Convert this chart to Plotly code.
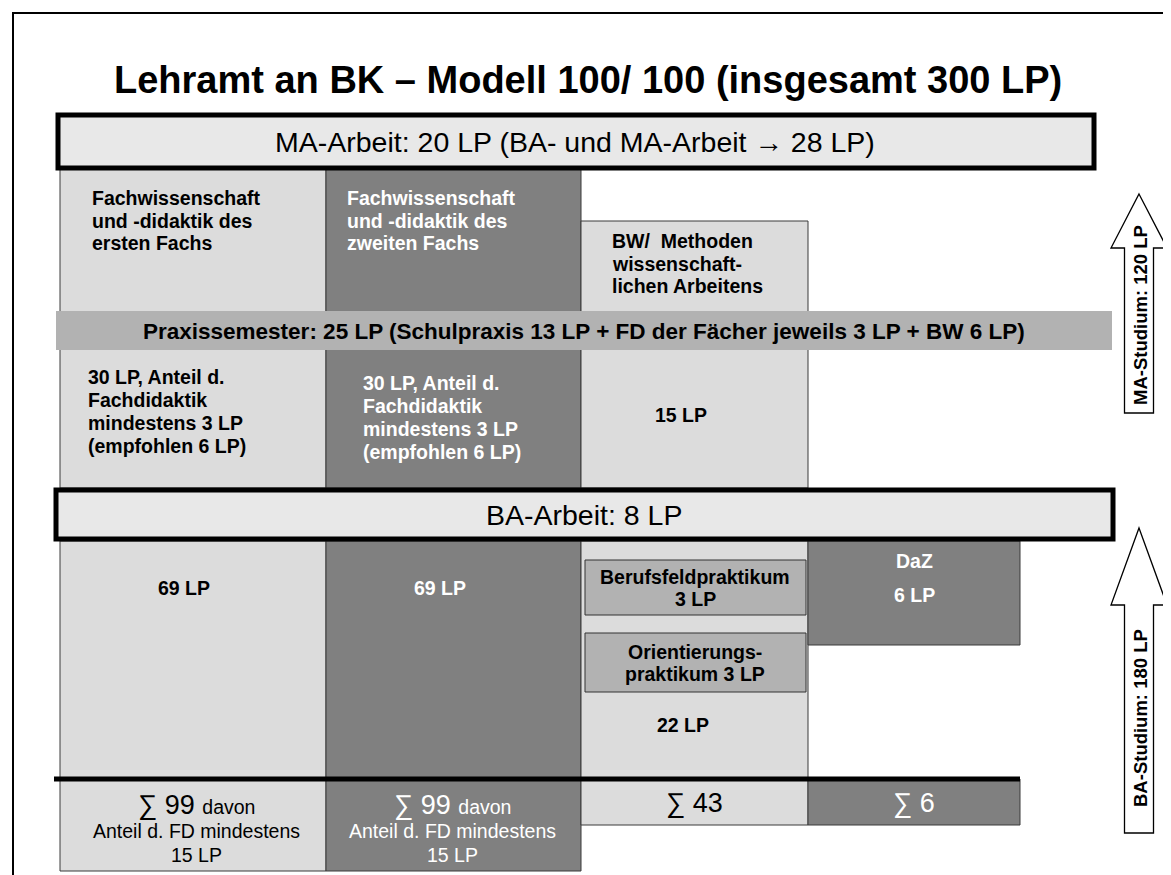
import plotly.graph_objects as go

# ---------------- data ----------------
title_text = "Lehramt an BK – Modell 100/ 100 (insgesamt 300 LP)"
ma_thesis_lp = 20
ba_thesis_lp = 8
theses_total_lp = 28
praxis_total_lp = 25
praxis_school_lp = 13
praxis_fd_lp = 3
praxis_bw_lp = 6
ma_area_labels = [
    ["Fachwissenschaft", "und -didaktik des", "ersten Fachs"],
    ["Fachwissenschaft", "und -didaktik des", "zweiten Fachs"],
    ["BW/  Methoden", "wissenschaft-", "lichen Arbeitens"],
]
ma_area_lp = [30, 30, 15]
ma_fd_min_lp = 3
ma_fd_recommended_lp = 6
ba_area_lp = [69, 69, 22, 6]
ba_extra_label = "DaZ"
practica_labels = [["Berufsfeldpraktikum", "{} LP"], ["Orientierungs-", "praktikum {} LP"]]
practica_lp = [3, 3]
area_totals = [99, 99, 43, 6]
ba_fd_min_lp = 15
study_labels = ["MA-Studium", "BA-Studium"]
study_lp = [120, 180]

# ---------------- layout geometry (pixels) ----------------
W, H = 1171, 875
LIGHT = "#dcdcdc"
DARK = "#808080"
BAND = "#b2b2b2"
BOX = "#e8e8e8"
EDGE = "#3a3a3a"
FONT = "Liberation Sans, Arial, sans-serif"

col_x = [52, 318, 573, 800, 1012]
ma_top, bw_top, mid_y, ba_bot, sum_y = 160, 213, 480, 533, 771
sum_bottom = [863, 863, 817, 817]
daz_bottom = 637

shapes = []
ann = []


def rect(x0, y0, x1, y1, fill, lc=EDGE, lw=1):
    shapes.append(dict(type="rect", xref="x", yref="y", x0=x0, y0=y0, x1=x1, y1=y1,
                       fillcolor=fill, line=dict(color=lc, width=lw), layer="above"))


def text(x, y, s, size, color="black", bold=False, anchor="center", angle=0):
    if bold:
        s = "<b>" + s + "</b>"
    ann.append(dict(x=x, y=y, xref="x", yref="y", text=s, showarrow=False,
                    xanchor=anchor, yanchor="middle", textangle=angle,
                    font=dict(family=FONT, size=size, color=color)))


fills = [LIGHT, DARK, LIGHT, DARK]
tcol = ["black", "white", "black", "white"]

# MA columns
rect(col_x[0], ma_top, col_x[1], mid_y, LIGHT)
rect(col_x[1], ma_top, col_x[2], mid_y, DARK)
rect(col_x[2], bw_top, col_x[3], mid_y, LIGHT)

# Praxissemester band
rect(48, 303, 1104, 342, BAND, lc=BAND, lw=0)
text(576, 323, "Praxissemester: {} LP (Schulpraxis {} LP + FD der Fächer jeweils {} LP + BW {} LP)".format(
    praxis_total_lp, praxis_school_lp, praxis_fd_lp, praxis_bw_lp), 22.5, bold=True)

# MA upper labels
ma_label_x = [82, 337, 602]
ma_label_y0 = [190, 190, 233]
for i, lines in enumerate(ma_area_labels):
    for j, ln in enumerate(lines):
        text(ma_label_x[i], ma_label_y0[i] + j * 22.5, ln, 19.5, tcol[i], True, "left")

# MA lower labels
lower_lines = ["{} LP, Anteil d.", "Fachdidaktik", "mindestens {} LP", "(empfohlen {} LP)"]
low_x = [78, 353]
low_y0 = [369, 375]
for i in range(2):
    vals = [ma_area_lp[i], None, ma_fd_min_lp, ma_fd_recommended_lp]
    for j, ln in enumerate(lower_lines):
        s = ln.format(vals[j]) if "{}" in ln else ln
        text(low_x[i], low_y0[i] + j * 23, s, 19.5, tcol[i], True, "left")
text(673, 407, "{} LP".format(ma_area_lp[2]), 19.5, "black", True)

# BA columns
rect(col_x[0], ba_bot, col_x[1], sum_y, LIGHT)
rect(col_x[1], ba_bot, col_x[2], sum_y, DARK)
rect(col_x[2], ba_bot, col_x[3], sum_y, LIGHT)
rect(col_x[3], ba_bot, col_x[4], daz_bottom, DARK)

# practica boxes
prac_y = [(552, 607), (625, 684)]
for k, (y0, y1) in enumerate(prac_y):
    rect(577, y0, 798, y1, BAND, lc="#333333", lw=1)
    cy = (y0 + y1) / 2
    for j, ln in enumerate(practica_labels[k]):
        s = ln.format(practica_lp[k]) if "{}" in ln else ln
        text(687, cy - 11 + j * 22, s, 19.5, "black", True)

text(176, 580, "{} LP".format(ba_area_lp[0]), 19.5, "black", True)
text(432, 580, "{} LP".format(ba_area_lp[1]), 19.5, "white", True)
text(675, 717, "{} LP".format(ba_area_lp[2]), 19.5, "black", True)
text(906, 553, ba_extra_label, 19.5, "white", True)
text(906, 587, "{} LP".format(ba_area_lp[3]), 19.5, "white", True)

# sums row
for i in range(4):
    rect(col_x[i], sum_y, col_x[i + 1], sum_bottom[i], fills[i])
shapes.append(dict(type="line", xref="x", yref="y", x0=46, x1=col_x[4], y0=sum_y, y1=sum_y,
                   line=dict(color="black", width=5), layer="above"))
sum_cx = [188, 444, 686, 906]
for i in range(4):
    if i < 2:
        text(sum_cx[i], 797, "∑ {} <span style='font-size:19.5px'>davon</span>".format(area_totals[i]),
             27, tcol[i])
        text(sum_cx[i], 823, "Anteil d. FD mindestens", 19.5, tcol[i])
        text(sum_cx[i], 847, "{} LP".format(ba_fd_min_lp), 19.5, tcol[i])
    else:
        text(sum_cx[i], 795, "∑ {}".format(area_totals[i]), 27, tcol[i])

# thesis boxes
rect(50, 107, 1086, 160, BOX, lc="black", lw=5)
text(567, 134, "MA-Arbeit: {} LP (BA- und MA-Arbeit → {} LP)".format(ma_thesis_lp, theses_total_lp), 28.5)
rect(48, 482, 1105, 531, BOX, lc="black", lw=5)
text(576, 507, "BA-Arbeit: {} LP".format(ba_thesis_lp), 28.5)

# arrows
arrows = [(186, 240, 405, 307), (520, 597, 825, 710)]
cx, hw, sw = 1131, 28, 14.5
for k, (tip, base, bottom, ty) in enumerate(arrows):
    path = "M {} {} L {} {} L {} {} L {} {} L {} {} L {} {} L {} {} Z".format(
        cx, tip, cx + hw, base, cx + sw, base, cx + sw, bottom, cx - sw, bottom,
        cx - sw, base, cx - hw, base)
    shapes.append(dict(type="path", xref="x", yref="y", path=path, fillcolor="white",
                       line=dict(color="black", width=1.3), layer="above"))
    text(cx + 1, ty, "{}: {} LP".format(study_labels[k], study_lp[k]), 18.5, "black", True, angle=-90)

# outer frame (right and bottom edges run off the page)
shapes.append(dict(type="rect", xref="x", yref="y", x0=5, y0=5, x1=1190, y1=895,
                   line=dict(color="black", width=2), fillcolor="rgba(0,0,0,0)", layer="above"))

# title
text(580, 72, title_text, 38, "black", True)

fig = go.Figure()
fig.update_layout(
    width=W, height=H, margin=dict(l=0, r=0, t=0, b=0),
    paper_bgcolor="white", plot_bgcolor="white",
    xaxis=dict(range=[0, W], visible=False, fixedrange=True),
    yaxis=dict(range=[H, 0], visible=False, fixedrange=True),
    shapes=shapes, annotations=ann, showlegend=False,
)
fig.write_html("out.html")
